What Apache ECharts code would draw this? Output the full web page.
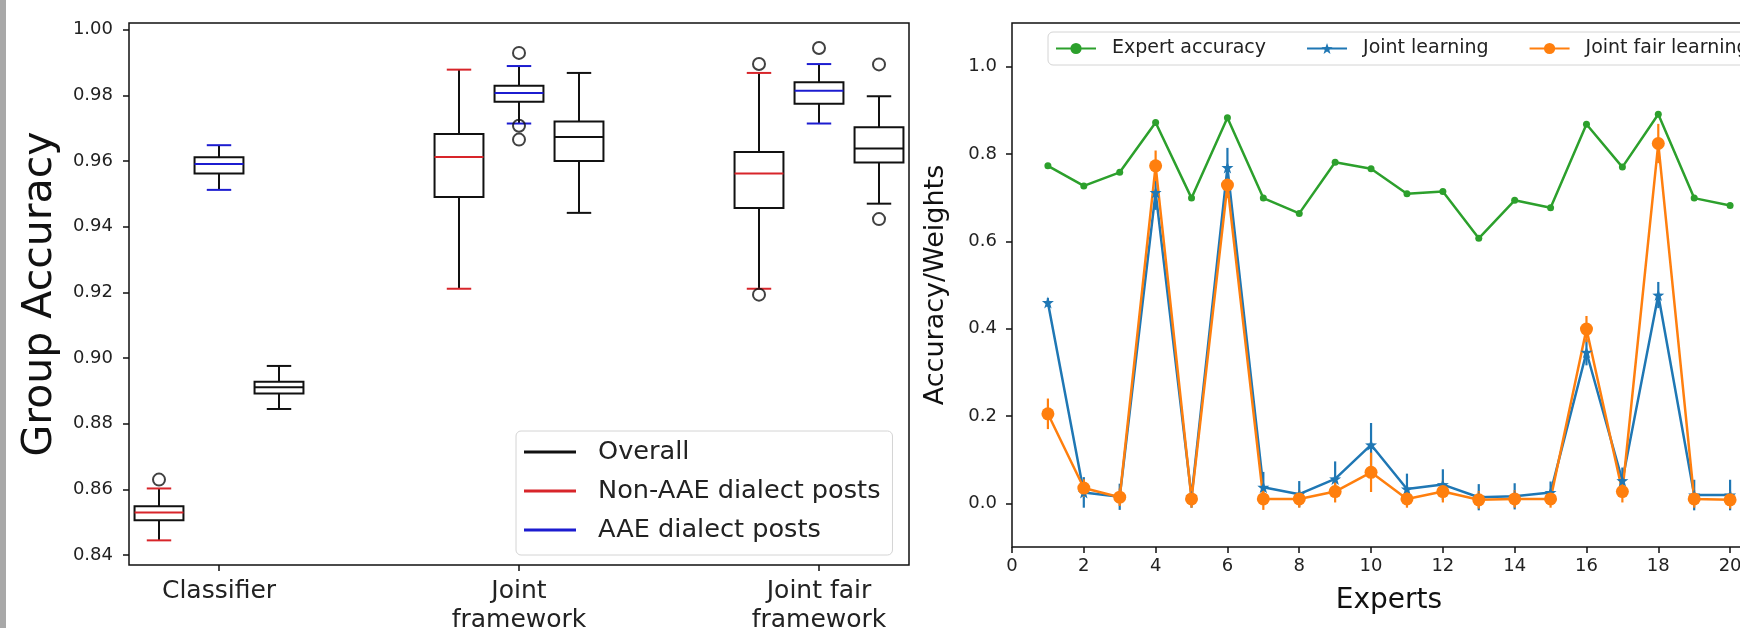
<!DOCTYPE html>
<html>
<head>
<meta charset="utf-8">
<script src="https://cdn.jsdelivr.net/npm/echarts@6/dist/echarts.min.js"></script>
<style>
html, body { margin: 0; padding: 0; background: #fff; }
#main { width: 1740px; height: 628px; }
</style>
</head>
<body>
<div id="main"></div>
<script>
// ---- left panel: group accuracy per framework ----
var groups = ['Classifier', 'Joint\nframework', 'Joint fair\nframework'];
// [lower whisker, q1, median, q3, upper whisker] for each group
var nonAaeBoxes = [
    [0.8445, 0.8506, 0.8530, 0.8549, 0.8603],
    [0.9211, 0.9490, 0.9612, 0.9682, 0.9878],
    [0.9211, 0.9457, 0.9562, 0.9627, 0.9868]
];
var aaeBoxes = [
    [0.9512, 0.9562, 0.9591, 0.9611, 0.9648],
    [0.9714, 0.9780, 0.9807, 0.9829, 0.9889],
    [0.9714, 0.9774, 0.9814, 0.9840, 0.9895]
];
var overallBoxes = [
    [0.8845, 0.8892, 0.8911, 0.8928, 0.8976],
    [0.9442, 0.9600, 0.9673, 0.9720, 0.9868],
    [0.9470, 0.9595, 0.9638, 0.9703, 0.9797]
];
// fliers: [group index, value]
var nonAaeOutliers = [[0, 0.863], [2, 0.9895], [2, 0.9193]];
var aaeOutliers = [[1, 0.9929], [1, 0.9707], [1, 0.9665], [2, 0.9944]];
var overallOutliers = [[2, 0.9894], [2, 0.9423]];
var accuracyTicks = [0.84, 0.86, 0.88, 0.90, 0.92, 0.94, 0.96, 0.98, 1.00];

// ---- right panel: expert weights ----
var experts = [1, 2, 3, 4, 5, 6, 7, 8, 9, 10, 11, 12, 13, 14, 15, 16, 17, 18, 19, 20];
var expertAccuracy = [0.773, 0.727, 0.758, 0.872, 0.699, 0.883, 0.699, 0.664, 0.781, 0.766,
    0.709, 0.714, 0.607, 0.694, 0.677, 0.868, 0.770, 0.891, 0.699, 0.682];
var jointWeights = [0.460, 0.025, 0.015, 0.712, 0.015, 0.769, 0.037, 0.021, 0.056, 0.134,
    0.033, 0.043, 0.014, 0.016, 0.025, 0.346, 0.052, 0.477, 0.019, 0.019];
var jointErr = [0.010, 0.035, 0.030, 0.040, 0.025, 0.045, 0.035, 0.030, 0.040, 0.050,
    0.035, 0.035, 0.030, 0.030, 0.025, 0.030, 0.030, 0.030, 0.035, 0.035];
var fairWeights = [0.205, 0.035, 0.014, 0.773, 0.010, 0.729, 0.010, 0.010, 0.027, 0.071,
    0.010, 0.027, 0.008, 0.010, 0.010, 0.399, 0.027, 0.824, 0.010, 0.008];
var fairErr = [0.035, 0.020, 0.020, 0.035, 0.020, 0.030, 0.025, 0.020, 0.025, 0.045,
    0.020, 0.025, 0.020, 0.020, 0.020, 0.030, 0.025, 0.045, 0.020, 0.020];
var weightTicks = [0, 0.2, 0.4, 0.6, 0.8, 1.0];
var expertTicks = [0, 2, 4, 6, 8, 10, 12, 14, 16, 18, 20];

var FONT = 'DejaVu Sans';
var RED = '#d8252a';
var BLUE = '#1c1cd0';
var INK = '#111';
var BOX_W = 0.163;

function boxData(boxes, offset) {
    return boxes.map(function (b, i) {
        return [i + 1 + offset].concat(b);
    });
}
function flierData(list, offset) {
    return list.map(function (o) { return [o[0] + 1 + offset, o[1]]; });
}

function boxRenderer(color) {
    return function (params, api) {
        var x = api.value(0);
        var lo = api.coord([x, api.value(1)]);
        var q1 = api.coord([x, api.value(2)]);
        var md = api.coord([x, api.value(3)]);
        var q3 = api.coord([x, api.value(4)]);
        var hi = api.coord([x, api.value(5)]);
        var w = api.size([BOX_W, 0])[0];
        var cx = lo[0];
        var dark = { stroke: INK, lineWidth: 2, fill: 'none' };
        var tint = { stroke: color, lineWidth: 2 };
        return {
            type: 'group',
            children: [
                { type: 'line', shape: { x1: cx, y1: lo[1], x2: cx, y2: q1[1] }, style: dark },
                { type: 'line', shape: { x1: cx, y1: q3[1], x2: cx, y2: hi[1] }, style: dark },
                { type: 'rect', shape: { x: cx - w / 2, y: q3[1], width: w, height: q1[1] - q3[1] }, style: dark },
                { type: 'line', shape: { x1: cx - w / 4, y1: lo[1], x2: cx + w / 4, y2: lo[1] }, style: tint },
                { type: 'line', shape: { x1: cx - w / 4, y1: hi[1], x2: cx + w / 4, y2: hi[1] }, style: tint },
                { type: 'line', shape: { x1: cx - w / 2, y1: md[1], x2: cx + w / 2, y2: md[1] }, style: tint }
            ]
        };
    };
}

function errRenderer(color) {
    return function (params, api) {
        var x = api.value(0), y = api.value(1), e = api.value(2);
        var a = api.coord([x, y - e]);
        var b = api.coord([x, y + e]);
        return { type: 'line', shape: { x1: a[0], y1: a[1], x2: b[0], y2: b[1] }, style: { stroke: color, lineWidth: 2.2 } };
    };
}

function flierSeries(list, offset) {
    return {
        type: 'scatter', xAxisIndex: 0, yAxisIndex: 0,
        symbol: 'circle', symbolSize: 12,
        itemStyle: { color: 'rgba(0,0,0,0)', borderColor: INK, borderWidth: 2 },
        data: flierData(list, offset), z: 3
    };
}

var STAR = 'path://M0,-10L2.35,-3.24L9.51,-3.09L3.8,1.24L5.88,8.09L0,4L-5.88,8.09L-3.8,1.24L-9.51,-3.09L-2.35,-3.24Z';

var chart = echarts.init(document.getElementById('main'));
var tickStyle = { show: true, inside: false, length: 6, lineStyle: { color: INK, width: 1.5 } };

var option = {
    backgroundColor: '#fff',
    animation: false,
    textStyle: { fontFamily: FONT },
    graphic: [{ type: 'rect', left: 0, top: 0, shape: { width: 6, height: 628 }, style: { fill: '#a8a8a8' } }],
    grid: [
        { left: 129, top: 23, right: 831, bottom: 63, show: true, borderColor: INK, borderWidth: 1.5, outerBoundsMode: 'none' },
        { left: 1012, top: 23, right: -26, bottom: 81, show: true, borderColor: INK, borderWidth: 1.5, outerBoundsMode: 'none' }
    ],
    xAxis: [{
        type: 'value', gridIndex: 0, min: 0.7, max: 3.3,
        splitLine: { show: false },
        axisLine: { show: false, onZero: false },
        axisTick: Object.assign({ customValues: [1, 2, 3] }, tickStyle),
        axisLabel: {
            customValues: [1, 2, 3], margin: 12, fontSize: 25, lineHeight: 29, color: '#222', fontFamily: FONT,
            formatter: function (v) { return groups[Math.round(v) - 1] || ''; }
        }
    }, {
        type: 'value', gridIndex: 1, min: 0, max: 21,
        splitLine: { show: false },
        axisLine: { show: false, onZero: false },
        axisTick: Object.assign({ customValues: expertTicks }, tickStyle),
        axisLabel: {
            customValues: expertTicks, margin: 10, fontSize: 18, color: '#222', fontFamily: FONT,
            formatter: function (v) { return expertTicks.indexOf(v) >= 0 ? String(v) : ''; }
        },
        name: 'Experts', nameLocation: 'middle', nameGap: 40,
        nameTextStyle: { fontSize: 28, color: '#111', fontFamily: FONT }
    }],
    yAxis: [{
        type: 'value', gridIndex: 0, min: 0.837, max: 1.002,
        splitLine: { show: false },
        axisLine: { show: false, onZero: false },
        axisTick: Object.assign({ customValues: accuracyTicks }, tickStyle),
        axisLabel: {
            customValues: accuracyTicks, margin: 16, fontSize: 18, color: '#222', fontFamily: FONT,
            formatter: function (v) { return v.toFixed(2); }
        },
        name: 'Group Accuracy', nameLocation: 'middle', nameGap: 68,
        nameTextStyle: { fontSize: 41, color: '#111', fontFamily: FONT }
    }, {
        type: 'value', gridIndex: 1, min: -0.1, max: 1.1,
        splitLine: { show: false },
        axisLine: { show: false, onZero: false },
        axisTick: Object.assign({ customValues: weightTicks }, tickStyle),
        axisLabel: {
            customValues: weightTicks, margin: 15, fontSize: 18, color: '#222', fontFamily: FONT,
            formatter: function (v) { return v.toFixed(1); }
        },
        name: 'Accuracy/Weights', nameLocation: 'middle', nameGap: 63,
        nameTextStyle: { fontSize: 27, color: '#111', fontFamily: FONT }
    }],
    legend: [{
        data: ['Overall', 'Non-AAE dialect posts', 'AAE dialect posts'],
        orient: 'vertical', left: 516, top: 431,
        padding: [8, 12, 12, 8], itemGap: 13, itemWidth: 52, itemHeight: 3, icon: 'rect',
        backgroundColor: '#fff', borderColor: '#d4d4d4', borderWidth: 1, borderRadius: 5,
        textStyle: { fontSize: 25.6, color: '#222', fontFamily: FONT, padding: [0, 0, 0, 17] }
    }, {
        data: ['Expert accuracy', 'Joint learning', 'Joint fair learning'],
        orient: 'horizontal', left: 1048, top: 32, width: 900,
        padding: [7, 10, 7, 7], itemGap: 40, itemWidth: 40, itemHeight: 14,
        backgroundColor: 'rgba(255,255,255,0.85)', borderColor: '#d4d4d4', borderWidth: 1, borderRadius: 5,
        textStyle: { fontSize: 19, color: '#222', fontFamily: FONT, padding: [0, 0, 0, 11] }
    }],
    series: [
        // legend keys for the box plot
        { name: 'Overall', type: 'line', xAxisIndex: 0, yAxisIndex: 0, data: [], symbol: 'none', color: INK, lineStyle: { color: INK } },
        { name: 'Non-AAE dialect posts', type: 'line', xAxisIndex: 0, yAxisIndex: 0, data: [], symbol: 'none', color: RED, lineStyle: { color: RED } },
        { name: 'AAE dialect posts', type: 'line', xAxisIndex: 0, yAxisIndex: 0, data: [], symbol: 'none', color: BLUE, lineStyle: { color: BLUE } },
        { type: 'custom', xAxisIndex: 0, yAxisIndex: 0, renderItem: boxRenderer(RED), data: boxData(nonAaeBoxes, -0.2) },
        { type: 'custom', xAxisIndex: 0, yAxisIndex: 0, renderItem: boxRenderer(BLUE), data: boxData(aaeBoxes, 0) },
        { type: 'custom', xAxisIndex: 0, yAxisIndex: 0, renderItem: boxRenderer(INK), data: boxData(overallBoxes, 0.2) },
        flierSeries(nonAaeOutliers, -0.2),
        flierSeries(aaeOutliers, 0),
        flierSeries(overallOutliers, 0.2),

        // right panel
        {
            name: 'Expert accuracy', type: 'line', xAxisIndex: 1, yAxisIndex: 1,
            color: '#2ca02c', symbol: 'circle', symbolSize: 7, showAllSymbol: true,
            lineStyle: { width: 2.5 },
            data: experts.map(function (e, i) { return [e, expertAccuracy[i]]; })
        },
        {
            type: 'custom', xAxisIndex: 1, yAxisIndex: 1, renderItem: errRenderer('#1f77b4'),
            data: experts.map(function (e, i) { return [e, jointWeights[i], jointErr[i]]; })
        },
        {
            name: 'Joint learning', type: 'line', xAxisIndex: 1, yAxisIndex: 1,
            color: '#1f77b4', symbol: STAR, symbolSize: 12, showAllSymbol: true,
            lineStyle: { width: 2.5 },
            data: experts.map(function (e, i) { return [e, jointWeights[i]]; })
        },
        {
            type: 'custom', xAxisIndex: 1, yAxisIndex: 1, renderItem: errRenderer('#ff7f0e'),
            data: experts.map(function (e, i) { return [e, fairWeights[i], fairErr[i]]; })
        },
        {
            name: 'Joint fair learning', type: 'line', xAxisIndex: 1, yAxisIndex: 1,
            color: '#ff7f0e', symbol: 'circle', symbolSize: 13, showAllSymbol: true,
            lineStyle: { width: 2.5 },
            data: experts.map(function (e, i) { return [e, fairWeights[i]]; })
        }
    ]
};
chart.setOption(option);
</script>
</body>
</html>
